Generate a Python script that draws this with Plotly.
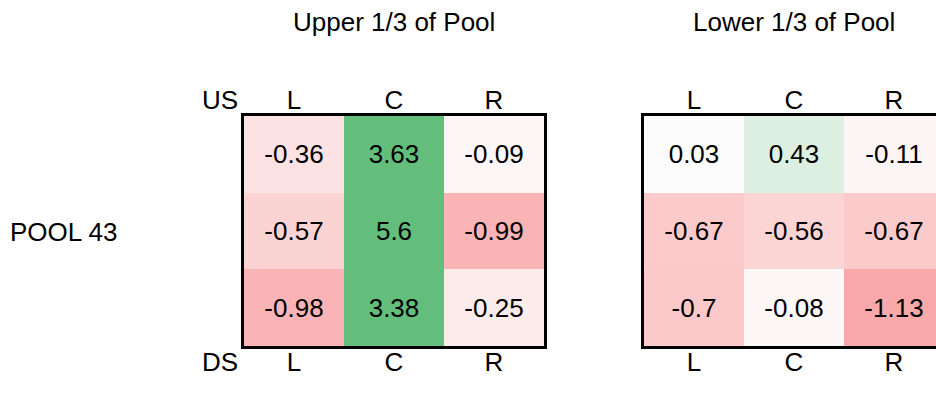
import plotly.graph_objects as go

cols = ["L", "C", "R"]
rows = ["US row", "Mid row", "DS row"]
upper_vals = [[-0.36, 3.63, -0.09],
              [-0.57, 5.6, -0.99],
              [-0.98, 3.38, -0.25]]
lower_vals = [[0.03, 0.43, -0.11],
              [-0.67, -0.56, -0.67],
              [-0.7, -0.08, -1.13]]
panel_titles = ["Upper 1/3 of Pool", "Lower 1/3 of Pool"]
pool_label = "POOL 43"

OFF = 0
W, H = 936, 413
VIS_RIGHT = OFF + W
FONT = "Arial, Liberation Sans, sans-serif"
FS = 26
cscale = [[0.0, "#F8696B"], [0.5, "#FDFDFD"], [1.0, "#63BE7B"]]

def px_x(v):
    return (v - OFF) / W

def px_y(v):
    return 1 - (v - OFF) / H

fig = go.Figure()
panels = [(upper_vals, 244, 544), (lower_vals, 644, 944)]
ydom = [px_y(346), px_y(116)]

for i, (vals, x0, x1) in enumerate(panels):
    n = i + 1
    xa = "x" if n == 1 else "x2"
    ya = "y" if n == 1 else "y2"
    fig.add_trace(go.Heatmap(
        z=vals, x=cols, y=rows, xaxis=xa, yaxis=ya,
        colorscale=cscale, zmin=-2, zmax=2, showscale=False,
        text=[[f"{v:g}" for v in r] for r in vals],
        texttemplate="%{text}",
        textfont=dict(family=FONT, size=FS, color="black"),
        hoverinfo="skip",
    ))
    clipped = x1 > VIS_RIGHT
    right = min(x1, VIS_RIGHT)
    xrange = [-0.5, -0.5 + 3 * (right - x0) / (x1 - x0)]
    xkey = "xaxis" if n == 1 else f"xaxis{n}"
    ykey = "yaxis" if n == 1 else f"yaxis{n}"
    topkey = f"xaxis{n + 2}"
    fig.update_layout(**{
        xkey: dict(domain=[px_x(x0), px_x(right)], anchor=ya, side="bottom",
                   range=xrange, tickfont=dict(family=FONT, size=FS, color="black"),
                   ticks="", ticklabelstandoff=-9, showgrid=False, zeroline=False,
                   showline=True, linewidth=3, linecolor="black",
                   mirror=False, fixedrange=True),
        ykey: dict(domain=ydom, anchor=xa, autorange="reversed",
                   showticklabels=False, ticks="", showgrid=False, zeroline=False,
                   showline=True, linewidth=3, linecolor="black",
                   mirror=(not clipped)),
        topkey: dict(overlaying=xa, matches=xa, side="top", anchor=ya,
                     tickfont=dict(family=FONT, size=FS, color="black"),
                     ticks="", ticklabelstandoff=-6, showgrid=False, zeroline=False,
                     showline=True, linewidth=3, linecolor="black",
                     categoryorder="array", categoryarray=cols),
    })
    fig.add_trace(go.Scatter(x=cols, y=[rows[0]] * 3, xaxis=f"x{n + 2}", yaxis=ya,
                             mode="markers", marker=dict(opacity=0),
                             hoverinfo="skip", showlegend=False))
    fig.add_annotation(text=panel_titles[i], x=px_x((x0 + x1) / 2), y=px_y(22),
                       xref="paper", yref="paper", showarrow=False,
                       xanchor="center", yanchor="middle",
                       font=dict(family=FONT, size=FS, color="black"))

for txt, xx, yy in [("US", 220, 100), ("DS", 220, 362), (pool_label, 63, 232)]:
    fig.add_annotation(text=txt, x=px_x(xx), y=px_y(yy), xref="paper", yref="paper",
                       showarrow=False, xanchor="center", yanchor="middle",
                       font=dict(family=FONT, size=FS, color="black"))

fig.update_layout(width=W, height=H, margin=dict(l=0, r=0, t=0, b=0),
                  paper_bgcolor="white", plot_bgcolor="white", showlegend=False)
fig.write_html("out.html", config={"displayModeBar": False},
               post_script="document.body.style.margin='0';document.body.style.overflow='hidden';")
